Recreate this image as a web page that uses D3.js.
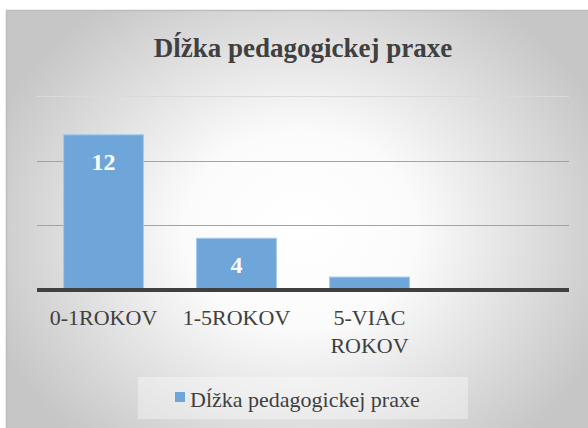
<!DOCTYPE html>
<html>
<head>
<meta charset="utf-8">
<script src="https://cdn.jsdelivr.net/npm/d3@7"></script>
<style>
  body { margin: 0; background: #fff; }
</style>
</head>
<body>
<div id="chart"></div>
<script>
var categories      =   ['0-1ROKOV', '1-5ROKOV', '5-VIAC ROKOV', ''];
var values          =   [12, 4, 1, null];
var grid_ticks      =   [0, 5, 10, 15];
var series_name     =   'Dĺžka pedagogickej praxe';
var chart_title     =   'Dĺžka pedagogickej praxe';

var chart_width     =   588;
var chart_height    =   428;
var plot            =   { left: 37, right: 569, top: 96, bottom: 290 };
var font            =   'Times New Roman';

var svg             =   d3.select( '#chart' )
    .append( 'svg' )
    .attr( 'width', chart_width )
    .attr( 'height', chart_height )
    .style( 'display', 'block' );

// background gradient (light in the middle, grey at the edges)
var defs = svg.append( 'defs' );
var grad = defs.append( 'radialGradient' )
    .attr( 'id', 'bg' )
    .attr( 'gradientUnits', 'userSpaceOnUse' )
    .attr( 'cx', 300 ).attr( 'cy', 230 )
    .attr( 'r', 330 )
    .attr( 'gradientTransform', 'translate(300,230) scale(1,0.85) translate(-300,-230)' );
grad.append( 'stop' ).attr( 'offset', '0%' ).attr( 'stop-color', '#ffffff' );
grad.append( 'stop' ).attr( 'offset', '35%' ).attr( 'stop-color', '#fbfbfb' );
grad.append( 'stop' ).attr( 'offset', '100%' ).attr( 'stop-color', '#c6c6c6' );

svg.append( 'rect' )
    .attr( 'x', 6.5 ).attr( 'y', 10.5 )
    .attr( 'width', chart_width ).attr( 'height', chart_height )
    .attr( 'fill', 'url(#bg)' )
    .attr( 'stroke', '#bdbdbd' )
    .attr( 'stroke-width', 1.5 );

// Scales
var x_scale = d3.scaleBand()
                .domain( categories )
                .range( [plot.left, plot.right] )
                .paddingInner( 0.4 )
                .paddingOuter( 0.2 );

var y_scale = d3.scaleLinear()
                .domain( [0, 15] )
                .range( [plot.bottom, plot.top] );

// Gridlines
svg.selectAll( 'line.grid' )
    .data( grid_ticks.filter(function(d){ return d > 0; }) )
    .enter()
    .append( 'line' )
    .attr( 'class', 'grid' )
    .attr( 'x1', plot.left )
    .attr( 'x2', plot.right )
    .attr( 'y1', function(d){ return Math.round(y_scale(d)) + 0.5; } )
    .attr( 'y2', function(d){ return Math.round(y_scale(d)) + 0.5; } )
    .attr( 'stroke', function(d){ return d === 15 ? '#dadada' : '#a3a3a3'; } )
    .attr( 'stroke-width', 1.2 );

// Bars
var bar_data = categories.map(function(c, i){ return { cat: c, val: values[i] }; })
                         .filter(function(d){ return d.val !== null; });

svg.selectAll( 'rect.bar' )
    .data( bar_data )
    .enter()
    .append( 'rect' )
    .attr( 'class', 'bar' )
    .attr( 'x', function(d){ return x_scale(d.cat); } )
    .attr( 'y', function(d){ return y_scale(d.val); } )
    .attr( 'width', x_scale.bandwidth() )
    .attr( 'height', function(d){ return y_scale(0) - y_scale(d.val); } )
    .attr( 'fill', '#6fa6d9' )
    .attr( 'stroke', '#a4c8ea' )
    .attr( 'stroke-width', 1 );

// Axis baseline
svg.append( 'line' )
    .attr( 'x1', plot.left )
    .attr( 'x2', plot.right )
    .attr( 'y1', y_scale(0) )
    .attr( 'y2', y_scale(0) )
    .attr( 'stroke', '#404040' )
    .attr( 'stroke-width', 4 );

// Data labels (only where the bar is tall enough)
svg.selectAll( 'text.val' )
    .data( bar_data.filter(function(d){ return y_scale(0) - y_scale(d.val) > 40; }) )
    .enter()
    .append( 'text' )
    .attr( 'class', 'val' )
    .text(function(d){ return d.val; })
    .attr( 'x', function(d){ return x_scale(d.cat) + x_scale.bandwidth() / 2; } )
    .attr( 'y', function(d){ return y_scale(d.val) + 35; } )
    .attr( 'font-family', font )
    .attr( 'font-size', 24 )
    .attr( 'font-weight', 'bold' )
    .attr( 'fill', '#fff' )
    .attr( 'text-anchor', 'middle' );

// Category labels (wrap on the space for the long one)
var cat_labels = svg.selectAll( 'text.cat' )
    .data( categories )
    .enter()
    .append( 'text' )
    .attr( 'class', 'cat' )
    .attr( 'x', function(d){ return x_scale(d) + x_scale.bandwidth() / 2; } )
    .attr( 'y', 325 )
    .attr( 'font-family', font )
    .attr( 'font-size', 22 )
    .attr( 'fill', '#404040' )
    .attr( 'text-anchor', 'middle' );

cat_labels.each(function(d){
    var words = d.indexOf(' ') > 0 ? d.split(' ') : [d];
    var t = d3.select(this);
    words.forEach(function(w, i){
        t.append( 'tspan' )
            .attr( 'x', t.attr('x') )
            .attr( 'dy', i === 0 ? 0 : 28 )
            .text( w );
    });
});

// Title
svg.append( 'text' )
    .text( chart_title )
    .attr( 'x', 303 )
    .attr( 'y', 57 )
    .attr( 'font-family', font )
    .attr( 'font-size', 27 )
    .attr( 'font-weight', 'bold' )
    .attr( 'fill', '#404040' )
    .attr( 'text-anchor', 'middle' );

// Legend
var legend = svg.append( 'g' );
legend.append( 'rect' )
    .attr( 'x', 138 ).attr( 'y', 377 )
    .attr( 'width', 330 ).attr( 'height', 42 )
    .attr( 'fill', '#ffffff' )
    .attr( 'fill-opacity', 0.35 );
legend.append( 'rect' )
    .attr( 'x', 175 ).attr( 'y', 392 )
    .attr( 'width', 10 ).attr( 'height', 10 )
    .attr( 'fill', '#6fa6d9' );
legend.append( 'text' )
    .text( series_name )
    .attr( 'x', 190 )
    .attr( 'y', 407 )
    .attr( 'font-family', font )
    .attr( 'font-size', 22 )
    .attr( 'fill', '#404040' );
</script>
</body>
</html>
